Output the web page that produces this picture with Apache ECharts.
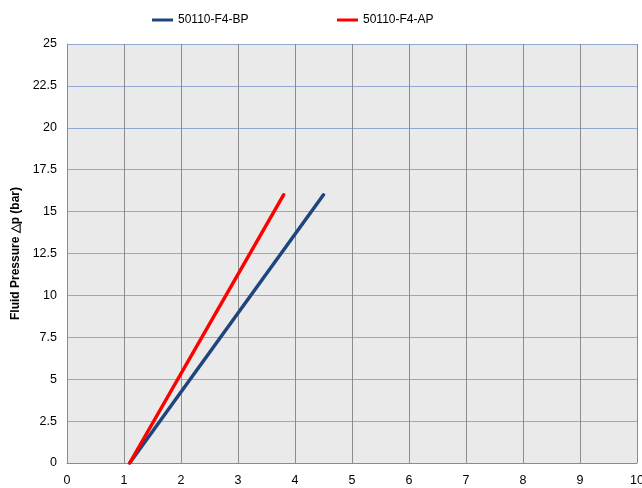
<!DOCTYPE html>
<html>
<head>
<meta charset="utf-8">
<script src="https://cdn.jsdelivr.net/npm/echarts@6/dist/echarts.min.js"></script>
<style>
  html, body { margin: 0; padding: 0; background: #ffffff; }
  #chart { width: 642px; height: 488px; }
</style>
</head>
<body>
<div id="chart"></div>
<script>
// Flow (x) vs fluid pressure drop (y) for two filter elements
const seriesNames = ['50110-F4-BP', '50110-F4-AP'];
const flowBP = [1.1, 4.5];
const pressureBP = [0, 16];
const flowAP = [1.1, 3.8];
const pressureAP = [0, 16];
const xTicks = [0, 1, 2, 3, 4, 5, 6, 7, 8, 9, 10];
const yTicks = [0, 2.5, 5, 7.5, 10, 12.5, 15, 17.5, 20, 22.5, 25];

const pairs = (xs, ys) => xs.map((x, i) => [x, ys[i]]);
const font = 'Liberation Sans, Arial, sans-serif';

const chart = echarts.init(document.getElementById('chart'), null, { renderer: 'canvas' });
chart.setOption({
  animation: false,
  backgroundColor: '#ffffff',
  legend: [
    {
      data: [seriesNames[0]], left: 147, top: 9,
      icon: 'rect', itemWidth: 21, itemHeight: 3, itemGap: 2,
      textStyle: { fontFamily: font, fontSize: 12, color: '#000' }
    },
    {
      data: [seriesNames[1]], left: 332, top: 9,
      icon: 'rect', itemWidth: 21, itemHeight: 3, itemGap: 2,
      textStyle: { fontFamily: font, fontSize: 12, color: '#000' }
    }
  ],
  grid: {
    left: 67, top: 44, right: 5, bottom: 25,
    containLabel: false, outerBoundsMode: 'none',
    show: true, backgroundColor: '#eaeaea', borderWidth: 0
  },
  xAxis: {
    type: 'value', min: xTicks[0], max: xTicks[xTicks.length - 1], interval: 1,
    axisLine: { show: true, lineStyle: { color: '#8c8c8c', width: 1 } },
    axisTick: { show: false },
    splitLine: { show: true, lineStyle: { color: '#8c8c8c', width: 1 } },
    axisLabel: { fontFamily: font, fontSize: 12.5, color: '#000', margin: 11, showMaxLabel: true, hideOverlap: false }
  },
  yAxis: {
    type: 'value', min: yTicks[0], max: yTicks[yTicks.length - 1], interval: 2.5,
    name: 'Fluid Pressure \u25B3p (bar)', nameLocation: 'middle', nameGap: 44,
    nameTextStyle: { fontFamily: font, fontSize: 12, fontWeight: 'bold', color: '#000' },
    axisLine: { show: true, lineStyle: { color: '#8c8c8c', width: 1 } },
    axisTick: { show: false },
    splitLine: { show: true, lineStyle: { color: '#8fabd2', width: 1 } },
    axisLabel: { fontFamily: font, fontSize: 12.5, color: '#000', margin: 10 }
  },
  series: [
    {
      name: seriesNames[0], type: 'line', data: pairs(flowBP, pressureBP),
      symbol: 'none', lineStyle: { color: '#1f467c', width: 3.5, cap: 'round' },
      itemStyle: { color: '#1f467c' }, z: 3
    },
    {
      name: seriesNames[1], type: 'line', data: pairs(flowAP, pressureAP),
      symbol: 'none', lineStyle: { color: '#ff0000', width: 3.5, cap: 'round' },
      itemStyle: { color: '#ff0000' }, z: 4
    }
  ]
});
</script>
</body>
</html>
